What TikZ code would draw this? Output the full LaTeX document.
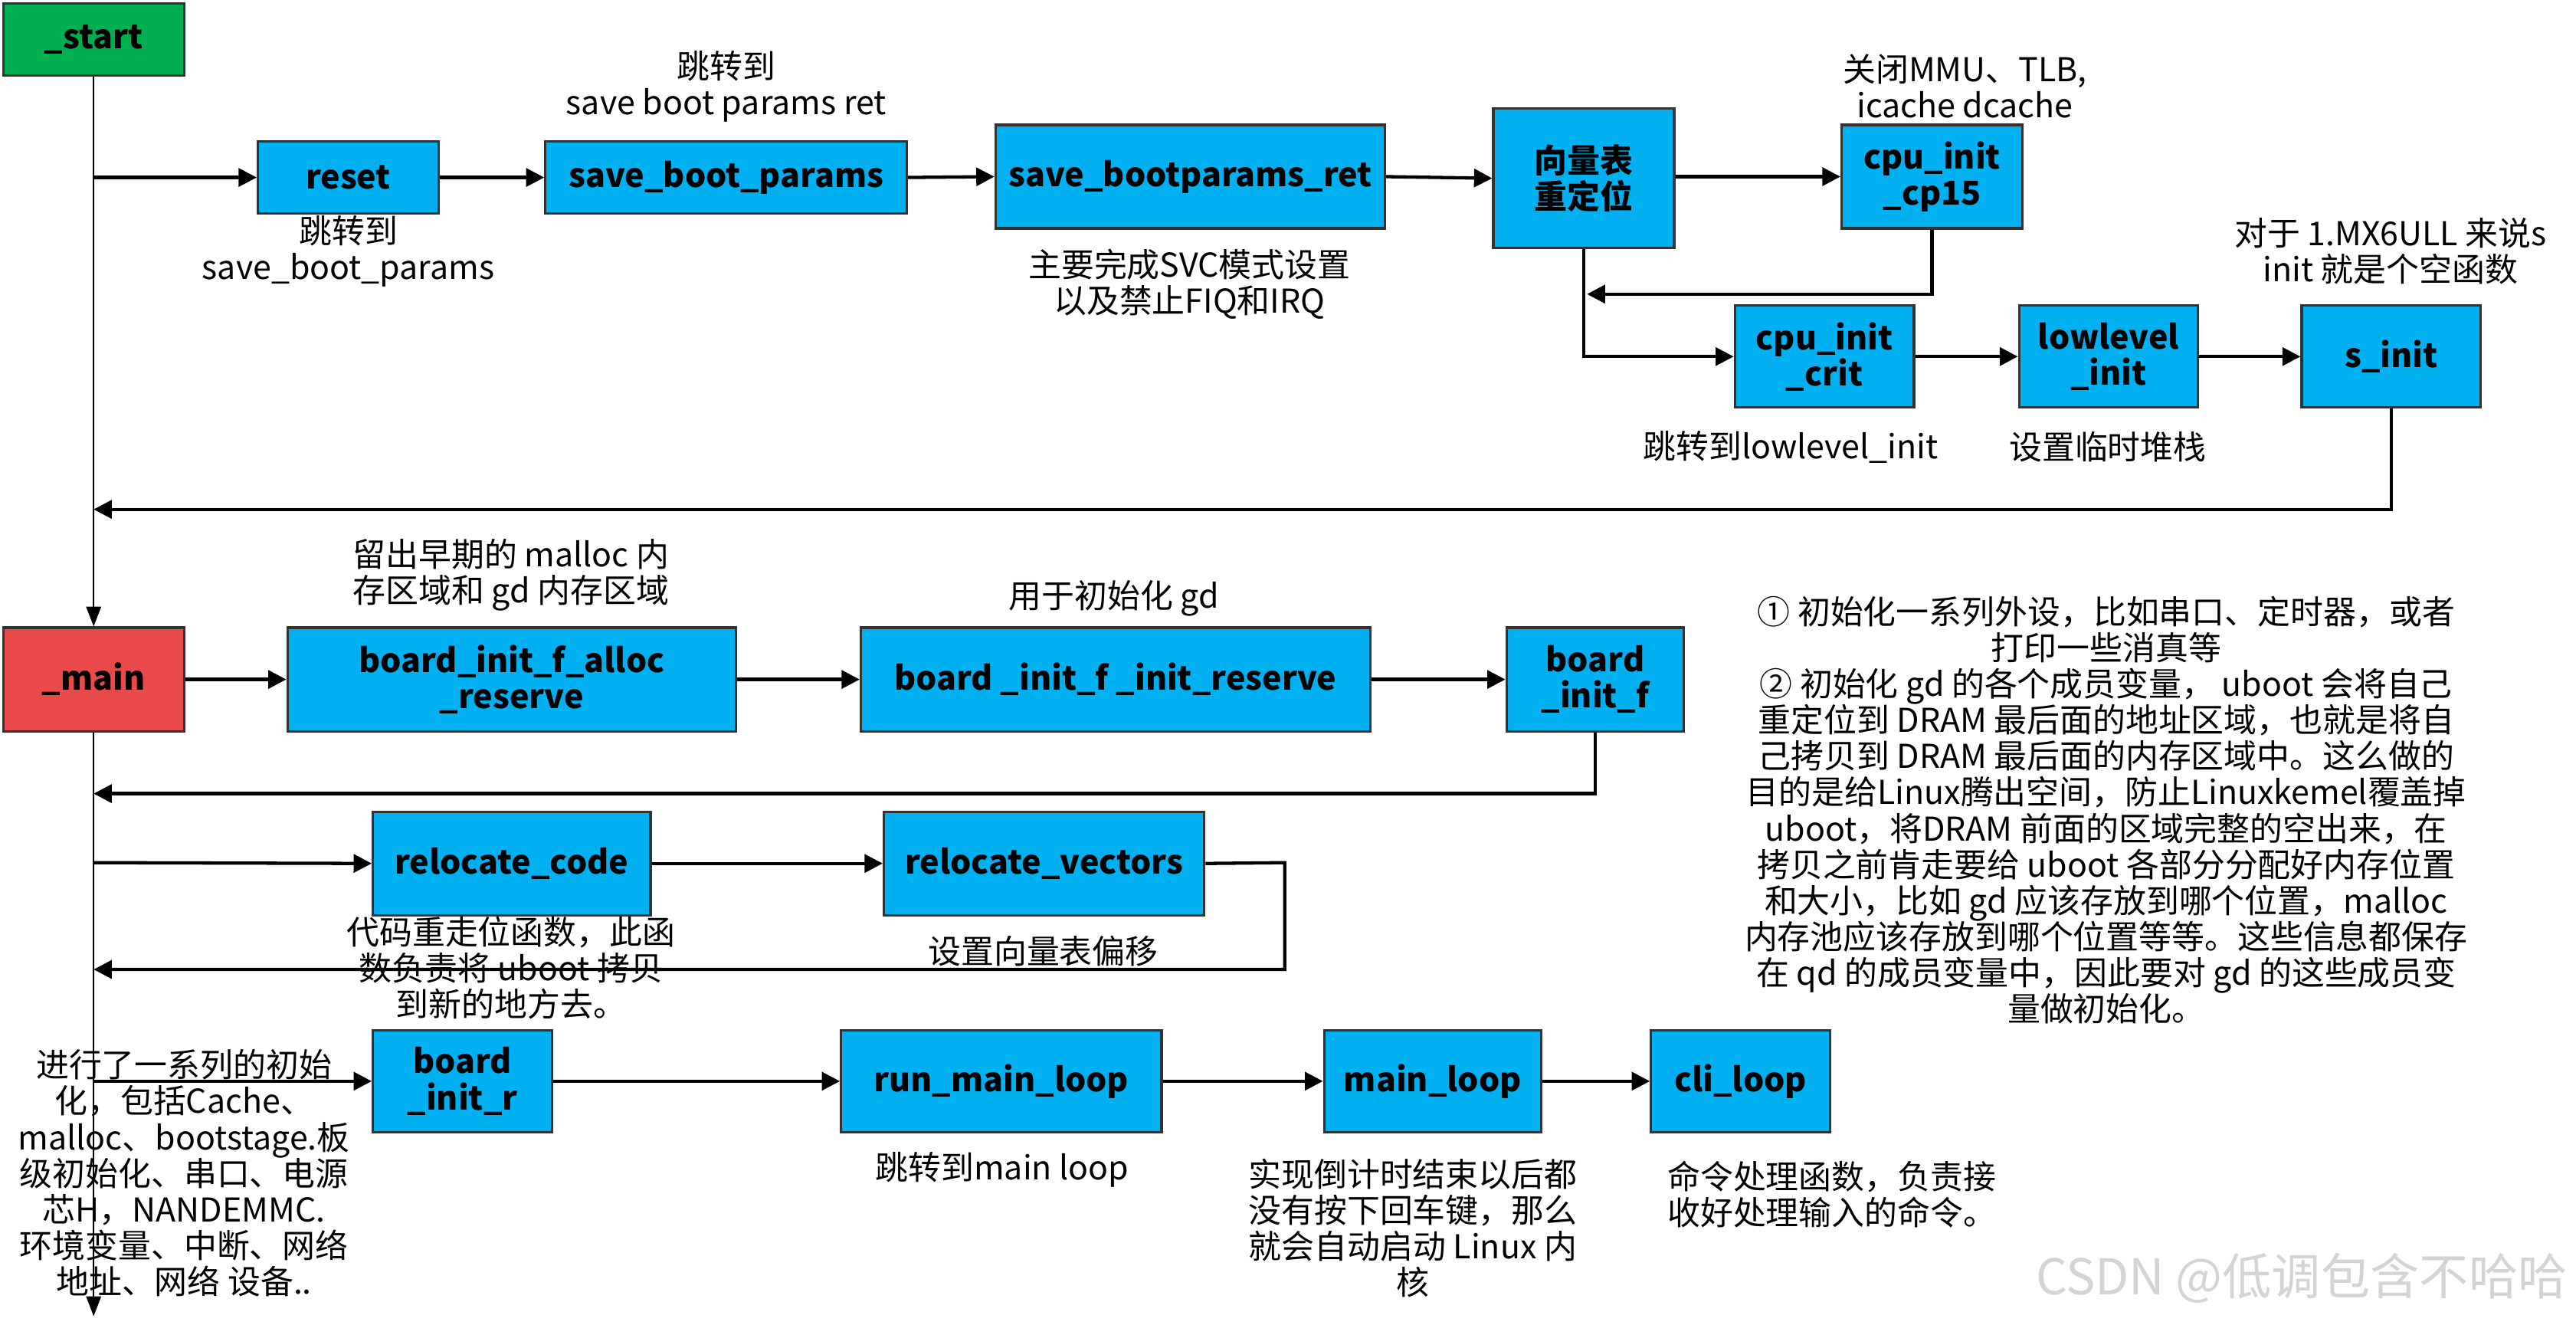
\documentclass[tikz,border=0pt]{standalone}
\usepackage{fontspec}
\setmainfont{Noto Sans CJK SC}
\usetikzlibrary{arrows.meta}
\definecolor{boxblue}{HTML}{00B0F0}
\definecolor{startgreen}{HTML}{00B050}
\definecolor{mainred}{HTML}{E84A4A}
\definecolor{edgegrey}{HTML}{333333}
\definecolor{wmgrey}{HTML}{D4D4D4}
\newcommand\boxfnt{\fontsize{20}{22}\selectfont\bfseries}
\newcommand\lblfnt{\fontsize{20}{22}\selectfont}
\begin{document}
\begin{tikzpicture}[x=1pt,y=-1pt,
  box/.style={draw=edgegrey, line width=1.5pt, fill=boxblue, inner sep=0pt, align=center, font=\boxfnt},
  conn/.style={line width=2pt, -{Triangle[length=11pt,width=11pt]}},
  spine/.style={line width=1pt, -{Triangle[length=12pt,width=9pt]}},
  lbl/.style={align=center, font=\lblfnt, inner sep=0pt}]
\useasboundingbox (0,0) rectangle (1568,806);
\fill[white] (0,0) rectangle (1568,806);

% ---------- boxes ----------
\node[box, fill=startgreen, minimum width=110pt, minimum height=44pt] (start) at (57,24) {\_start};
\node[box, minimum width=110pt, minimum height=44pt] (reset) at (212,108) {reset};
\node[box, minimum width=220pt, minimum height=44pt] (sbp) at (442,108) {save\_boot\_params};
\node[box, minimum width=237pt, minimum height=63pt] (sbpr) at (724.5,107.5) {save\_bootparams\_ret};
\node[box, minimum width=110pt, minimum height=85pt] (vec) at (964,108.5) {向量表\\重定位};
\node[box, minimum width=110pt, minimum height=63pt] (cp15) at (1176,107.5) {cpu\_init\\\_cp15};
\node[box, minimum width=109pt, minimum height=62pt] (crit) at (1110.5,217) {cpu\_init\\\_crit};
\node[box, minimum width=109pt, minimum height=62pt] (llinit) at (1283.5,217) {lowlevel\\\_init};
\node[box, minimum width=109pt, minimum height=62pt] (sinit) at (1455.5,217) {s\_init};

\node[box, fill=mainred, minimum width=110pt, minimum height=63pt] (main) at (57,413.5) {\_main};
\node[box, minimum width=273pt, minimum height=63pt] (bifar) at (311.5,413.5) {board\_init\_f\_alloc\\\_reserve};
\node[box, minimum width=310pt, minimum height=63pt] (bifir) at (679,413.5) {board \_init\_f \_init\_reserve};
\node[box, minimum width=108pt, minimum height=63pt] (bif) at (971,413.5) {board\\\_init\_f};

\node[box, minimum width=169pt, minimum height=63pt] (rc) at (311.5,525.5) {relocate\_code};
\node[box, minimum width=195pt, minimum height=63pt] (rv) at (635.5,525.5) {relocate\_vectors};

\node[box, minimum width=109pt, minimum height=62pt] (bir) at (281.5,658) {board\\\_init\_r};
\node[box, minimum width=195pt, minimum height=62pt] (rml) at (609.5,658) {run\_main\_loop};
\node[box, minimum width=132pt, minimum height=62pt] (ml) at (872,658) {main\_loop};
\node[box, minimum width=109pt, minimum height=62pt] (cli) at (1059.5,658) {cli\_loop};

% ---------- coordinates on the spine ----------
\coordinate (b1) at (57,108);
\coordinate (r1) at (57,310);
\coordinate (r2) at (57,483);
\coordinate (b2) at (57,525);
\coordinate (r3) at (57,590);
\coordinate (b3) at (57,658);
\coordinate (spend) at (57,801);
\coordinate (vecin) at (966,179);
\coordinate (rvturn) at (782,525);

% ---------- spine ----------
\draw[spine] (start.south) -- (main.north);
\draw[spine] (main.south) -- (spend);

% ---------- connectors ----------
\draw[conn] (b1) -- (reset.west);
\draw[conn] (reset.east) -- (sbp.west);
\draw[conn] (sbp.east) -- (sbpr.west);
\draw[conn] (sbpr.east) -- (vec.west);
\draw[conn] (vec.east |- cp15.west) -- (cp15.west);
\draw[conn] (cp15.south) |- (vecin);
\draw[conn] (vec.south) |- (crit.west);
\draw[conn] (crit.east) -- (llinit.west);
\draw[conn] (llinit.east) -- (sinit.west);
\draw[conn] (sinit.south) |- (r1);

\draw[conn] (main.east) -- (bifar.west);
\draw[conn] (bifar.east) -- (bifir.west);
\draw[conn] (bifir.east) -- (bif.west);
\draw[conn] (bif.south) |- (r2);

\draw[conn] (b2) -- (rc.west);
\draw[conn] (rc.east) -- (rv.west);
\draw[conn] (rv.east) -- (rvturn) |- (r3);

\draw[conn] (b3) -- (bir.west);
\draw[conn] (bir.east) -- (rml.west);
\draw[conn] (rml.east) -- (ml.west);
\draw[conn] (ml.east) -- (cli.west);

% ---------- labels ----------
\node[lbl] (l1) at (442,52.5) {跳转到\\save boot params ret};
\node[lbl] (l2) at (212,153) {跳转到\\save\_boot\_params};
\node[lbl] (l3) at (724,173) {主要完成SVC模式设置\\以及禁止FIQ和IRQ};
\node[lbl] (l4) at (1196,52.5) {关闭MMU、TLB,\\icache dcache};
\node[lbl] (l5) at (1455,153) {对于 1.MX6ULL 来说s\\init 就是个空函数};
\node[lbl] (l6) at (1090,272) {跳转到lowlevel\_init};
\node[lbl] (l7) at (1283,272) {设置临时堆栈};

\node[lbl] (l8) at (311,350) {留出早期的 malloc 内\\存区域和 gd 内存区域};
\node[lbl] (l9) at (678,364) {用于初始化 gd};

\node[lbl] (l10) at (311,589) {代码重走位函数，此函\\数负责将 uboot 拷贝\\到新的地方去。};
\node[lbl] (l11) at (635,579) {设置向量表偏移};

\node[lbl] (l12) at (112,714) {进行了一系列的初始\\化，包括Cache、\\malloc、bootstage.板\\级初始化、串口、电源\\芯H，NANDEMMC.\\环境变量、中断、网络\\地址、网络 设备..};
\node[lbl] (l13) at (610,712) {跳转到main loop};
\node[lbl] (l14) at (860,747.5) {实现倒计时结束以后都\\没有按下回车键，那么\\就会自动启动 Linux 内\\核};
\node[lbl] (l15) at (1115,727) {命令处理函数，负责接\\收好处理输入的命令。};

\node[lbl] (l16) at (1282,493) {① 初始化一系列外设，比如串口、定时器，或者\\打印一些消真等\\② 初始化 gd 的各个成员变量， uboot 会将自己\\重定位到 DRAM 最后面的地址区域，也就是将自\\己拷贝到 DRAM 最后面的内存区域中。这么做的\\目的是给Linux腾出空间，防止Linuxkemel覆盖掉\\uboot，将DRAM 前面的区域完整的空出来，在\\拷贝之前肯走要给 uboot 各部分分配好内存位置\\和大小，比如 gd 应该存放到哪个位置，malloc\\内存池应该存放到哪个位置等等。这些信息都保存\\在 qd 的成员变量中，因此要对 gd 的这些成员变\\量做初始化。};

\node[lbl, font=\fontsize{30}{32}\selectfont, text=wmgrey] (wm) at (1401,778) {CSDN @低调包含不哈哈};
\end{tikzpicture}
\end{document}
